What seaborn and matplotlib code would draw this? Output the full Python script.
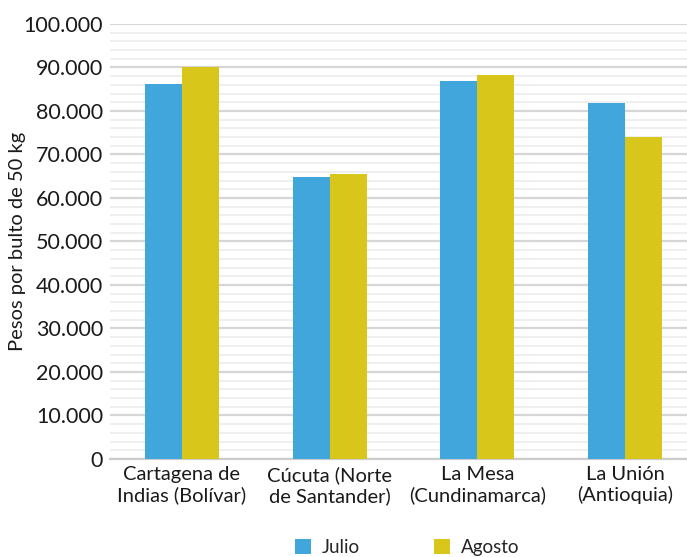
import matplotlib

matplotlib.use("Agg")

import matplotlib.pyplot as plt
import pandas as pd
import seaborn as sns
from matplotlib.ticker import FuncFormatter, MultipleLocator

CIUDADES = [
    "Cartagena de\nIndias (Bolívar)",
    "Cúcuta (Norte\nde Santander)",
    "La Mesa\n(Cundinamarca)",
    "La Unión\n(Antioquia)",
]
JULIO = [86300, 64800, 86900, 81800]
AGOSTO = [90100, 65500, 88300, 74000]
MESES = ["Julio", "Agosto"]
COLORES = ["#41A6DC", "#D9C61B"]


def build_frame() -> pd.DataFrame:
    rows = []
    for mes, valores in zip(MESES, [JULIO, AGOSTO]):
        for ciudad, valor in zip(CIUDADES, valores):
            rows.append({"ciudad": ciudad, "mes": mes, "valor": valor})
    return pd.DataFrame(rows)


def main() -> None:
    sns.set_theme(style="white")
    plt.rcParams["font.family"] = ["Lato", "DejaVu Sans"]

    data = build_frame()
    fig = plt.figure(figsize=(6.87, 5.57), dpi=100)
    ax = fig.add_axes([0.160, 0.176, 0.840, 0.781])

    sns.barplot(
        data=data, x="ciudad", y="valor", hue="mes",
        palette=COLORES, width=0.5, saturation=1, ax=ax, zorder=3,
        linewidth=0, edgecolor="none",
    )

    ax.set_ylim(0, 100000)
    ax.set_xlim(-0.487, 3.419)
    ax.yaxis.set_major_locator(MultipleLocator(10000))
    ax.yaxis.set_minor_locator(MultipleLocator(2000))
    ax.yaxis.set_major_formatter(FuncFormatter(lambda v, _: f"{int(v):,}".replace(",", ".")))
    ax.grid(axis="y", which="major", color="#d6d6d6", linewidth=1.6, zorder=0)
    ax.grid(axis="y", which="minor", color="#ececec", linewidth=1.2, zorder=0)
    ax.set_axisbelow(True)
    for side in ["left", "right", "top"]:
        ax.spines[side].set_visible(False)
    ax.spines["bottom"].set_color("#cccccc")
    ax.spines["bottom"].set_linewidth(1.6)
    ax.tick_params(axis="both", length=0)
    ax.tick_params(axis="y", labelsize=15.5, pad=5, colors="#1a1a1a")
    ax.tick_params(axis="x", labelsize=14.5, pad=5, colors="#1a1a1a")
    ax.set_xlabel("")
    ax.set_ylabel("Pesos por bulto de 50 kg", fontsize=14.5, color="#1a1a1a")
    ax.yaxis.set_label_coords(-0.145, 0.5)

    ax.legend(
        loc="upper center", bbox_to_anchor=(0.515, -0.145), ncol=2, frameon=False,
        fontsize=13.5, handlelength=0.85, handleheight=0.85, columnspacing=4.0, handletextpad=0.55,
    )

    fig.savefig("out.png", dpi=100)
    plt.close(fig)


if __name__ == "__main__":
    main()
